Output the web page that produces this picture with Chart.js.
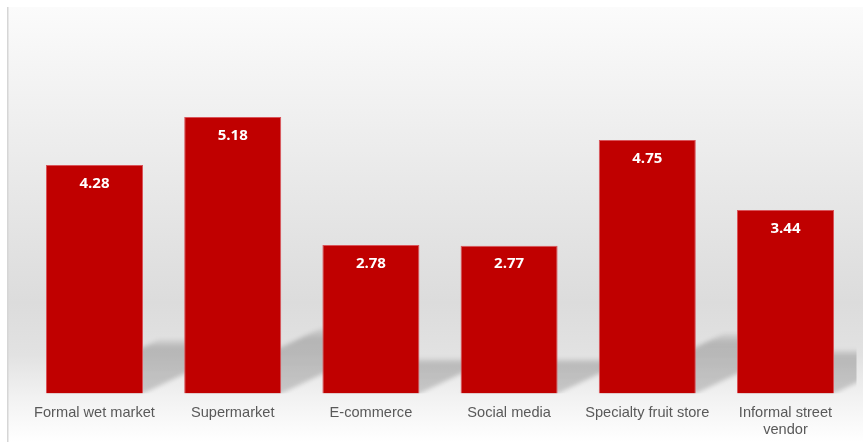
<!DOCTYPE html>
<html>
<head>
<meta charset="utf-8">
<script src="https://cdn.jsdelivr.net/npm/chart.js@4/dist/chart.umd.min.js"></script>
<style>
  html, body { margin: 0; padding: 0; background: #ffffff; }
  #wrap { width: 863px; height: 442px; position: relative; }
</style>
</head>
<body>
<div id="wrap"><canvas id="c" width="863" height="442"></canvas></div>
<script>
const categories = ["Formal wet market", "Supermarket", "E-commerce", "Social media", "Specialty fruit store", ["Informal street", "vendor"]];
const values = [4.28, 5.18, 2.78, 2.77, 4.75, 3.44];
const valueLabels = ["4.28", "5.18", "2.78", "2.77", "4.75", "3.44"];

const bgPlugin = {
  id: 'bg',
  beforeDraw(chart) {
    const ctx = chart.ctx;
    const W = chart.width, H = chart.height;
    ctx.save();
    const g = ctx.createLinearGradient(0, 7, 0, H);
    g.addColorStop(0, '#fbfbfb');
    g.addColorStop(0.35, '#ebebeb');
    g.addColorStop(0.68, '#dcdcdc');
    g.addColorStop(0.8, '#e2e2e2');
    g.addColorStop(0.9, '#f2f2f2');
    g.addColorStop(1, '#ffffff');
    ctx.fillStyle = g;
    ctx.fillRect(7, 7, W - 7, H - 7);
    ctx.fillStyle = '#d6d6d6';
    ctx.fillRect(7, 7, 1.5, H - 7);
    ctx.restore();
  },
  beforeDatasetsDraw(chart) {
    const ctx = chart.ctx;
    const meta = chart.getDatasetMeta(0);
    ctx.save();
    ctx.beginPath();
    ctx.rect(8.5, 7, 848, chart.chartArea.bottom - 7);
    ctx.clip();
    ctx.filter = 'blur(2px)';
    meta.data.forEach((el) => {
      const x1 = el.x - el.width / 2, x2 = el.x + el.width / 2;
      const base = el.base;
      const h = base - el.y;
      const sh = h * 0.235;
      const dx = sh * 2.1;
      const g = ctx.createLinearGradient(0, base, 0, base - sh);
      g.addColorStop(0, 'rgba(0,0,0,0.17)');
      g.addColorStop(0.85, 'rgba(0,0,0,0.19)');
      g.addColorStop(1, 'rgba(0,0,0,0.06)');
      ctx.fillStyle = g;
      ctx.beginPath();
      ctx.moveTo(x1, base);
      ctx.lineTo(x2, base);
      ctx.lineTo(x2 + dx, base - sh);
      ctx.lineTo(x1 + dx, base - sh);
      ctx.closePath();
      ctx.fill();
    });
    ctx.restore();
  },
  afterDatasetsDraw(chart) {
    const ctx = chart.ctx;
    const meta = chart.getDatasetMeta(0);
    ctx.save();
    ctx.fillStyle = '#ffffff';
    ctx.font = 'bold 15px "Open Sans", "DejaVu Sans", sans-serif';
    ctx.textAlign = 'center';
    ctx.textBaseline = 'middle';
    meta.data.forEach((el, i) => {
      ctx.fillText(valueLabels[i], el.x, el.y + 18.5);
    });
    ctx.restore();
  }
};

new Chart(document.getElementById('c'), {
  type: 'bar',
  data: {
    labels: categories,
    datasets: [{
      data: values,
      backgroundColor: '#c00000',
      borderColor: '#d9545a',
      borderWidth: 1,
      barPercentage: 0.9,
      categoryPercentage: 0.78
    }]
  },
  options: {
    responsive: false,
    animation: false,
    devicePixelRatio: 1,
    layout: { padding: { left: 25.4, right: 8.4, top: 20, bottom: -7 } },
    plugins: { legend: { display: false }, tooltip: { enabled: false } },
    scales: {
      x: {
        grid: { display: false, drawTicks: false },
        border: { display: false },
        ticks: {
          color: '#595959',
          padding: 11,
          maxRotation: 0,
          autoSkip: false,
          font: { family: '"Liberation Sans", Arial, sans-serif', size: 14.6, lineHeight: 1.15 }
        }
      },
      y: {
        display: false,
        min: 0,
        max: 7
      }
    }
  },
  plugins: [bgPlugin]
});
</script>
</body>
</html>
